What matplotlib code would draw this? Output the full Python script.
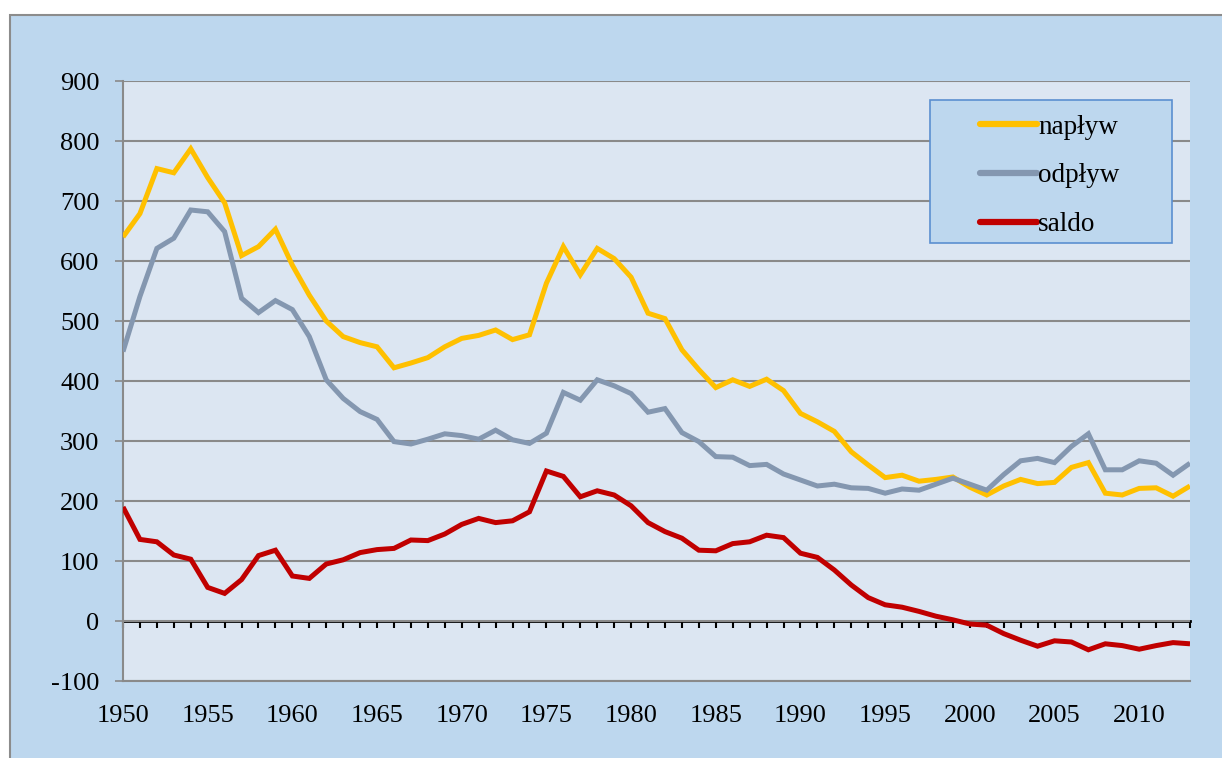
import matplotlib.pyplot as plt
from matplotlib.patches import Rectangle
import numpy as np

years = list(range(1950, 2014))

naplyw = [640, 679, 754, 747, 787, 739, 697, 609, 624, 653,
          593, 543, 500, 474, 464, 457, 422, 430, 439, 457,
          471, 476, 485, 469, 477, 563, 624, 577, 621, 604,
          573, 513, 504, 452, 419, 389, 402, 391, 403, 384,
          346, 332, 316, 282, 260, 239, 243, 233, 236, 240,
          223, 210, 225, 236, 229, 231, 256, 264, 213, 210,
          221, 222, 208, 225]

odplyw = [449, 541, 621, 638, 685, 682, 649, 538, 514, 534,
          519, 474, 402, 371, 349, 336, 299, 295, 303, 312,
          309, 303, 318, 302, 296, 313, 381, 368, 402, 392,
          379, 348, 354, 314, 299, 274, 273, 259, 261, 245,
          235, 225, 228, 222, 221, 213, 220, 218, 228, 238,
          228, 218, 244, 267, 271, 264, 291, 312, 252, 252,
          267, 263, 243, 263]

saldo = [190, 136, 132, 110, 103, 56, 46, 69, 109, 118,
         75, 71, 95, 102, 114, 119, 121, 135, 134, 145,
         161, 171, 164, 167, 182, 250, 241, 207, 217, 210,
         192, 164, 149, 138, 118, 117, 129, 132, 143, 139,
         113, 106, 85, 60, 39, 27, 23, 16, 8, 2,
         -5, -7, -21, -32, -42, -33, -35, -48, -38, -41,
         -47, -41, -36, -38]

series = [("napływ", naplyw, "#FFC000"),
          ("odpływ", odplyw, "#8497B0"),
          ("saldo", saldo, "#C00000")]

plt.rcParams['font.family'] = ['Liberation Serif', 'DejaVu Serif']
plt.rcParams['axes.unicode_minus'] = False

fig = plt.figure(figsize=(12.22, 7.58), dpi=100)
fig.patch.set_facecolor("white")

# outer chart frame
fig.patches.append(Rectangle((10 / 1222, -0.01), 1.0, 1 - 15 / 758 + 0.01,
                             transform=fig.transFigure, facecolor="#BDD7EE",
                             edgecolor="#8C8C8C", linewidth=1.5, zorder=-10))

ax = fig.add_axes([123 / 1222, 1 - 681 / 758, 1067 / 1222, 600 / 758])
ax.set_facecolor("#DCE6F2")

for name, vals, col in series:
    ax.plot(years, vals, color=col, linewidth=3.6, label=name, zorder=3,
            solid_joinstyle="miter", solid_capstyle="butt")

ax.set_xlim(1950, 2013)
ax.set_ylim(-100, 900)

ax.set_yticks(range(-100, 1000, 100))
ax.yaxis.grid(True, color="#8A8A8A", linewidth=1.5)
ax.set_axisbelow(True)
ax.tick_params(axis="y", length=6, width=1.2, color="#8A8A8A", pad=11,
               labelsize=19)

ax.set_xticks(range(1950, 2014, 5))
ax.tick_params(axis="x", length=0, pad=17, labelsize=19)

for s in ["top", "right"]:
    ax.spines[s].set_visible(False)
ax.spines["left"].set_color("#8A8A8A")
ax.spines["left"].set_linewidth(1.5)
ax.spines["bottom"].set_color("#8A8A8A")
ax.spines["bottom"].set_linewidth(1.5)

# zero line with yearly tick marks
sec = ax.secondary_xaxis(0.1)
sec.set_xticks(years)
sec.set_xticklabels([])
sec.tick_params(axis="x", length=5, width=1.5, color="black")
sec.spines["bottom"].set_color("black")
sec.spines["bottom"].set_linewidth(2)

# legend box
ax.add_patch(Rectangle((0.756, 0.73), 0.227, 0.238, transform=ax.transAxes,
                       facecolor="#BDD7EE", edgecolor="#5B8FD0",
                       linewidth=1.2, zorder=4))
leg = ax.legend(loc="upper left", bbox_to_anchor=(0.803, 0.944),
                frameon=False, fontsize=19.5, handlelength=2.1,
                handletextpad=0.05, labelspacing=0.88, borderpad=0,
                borderaxespad=0)
leg.set_zorder(5)
for line in leg.get_lines():
    line.set_linewidth(4.5)
    line.set_solid_capstyle("round")

fig.savefig("out.png", dpi=100)
